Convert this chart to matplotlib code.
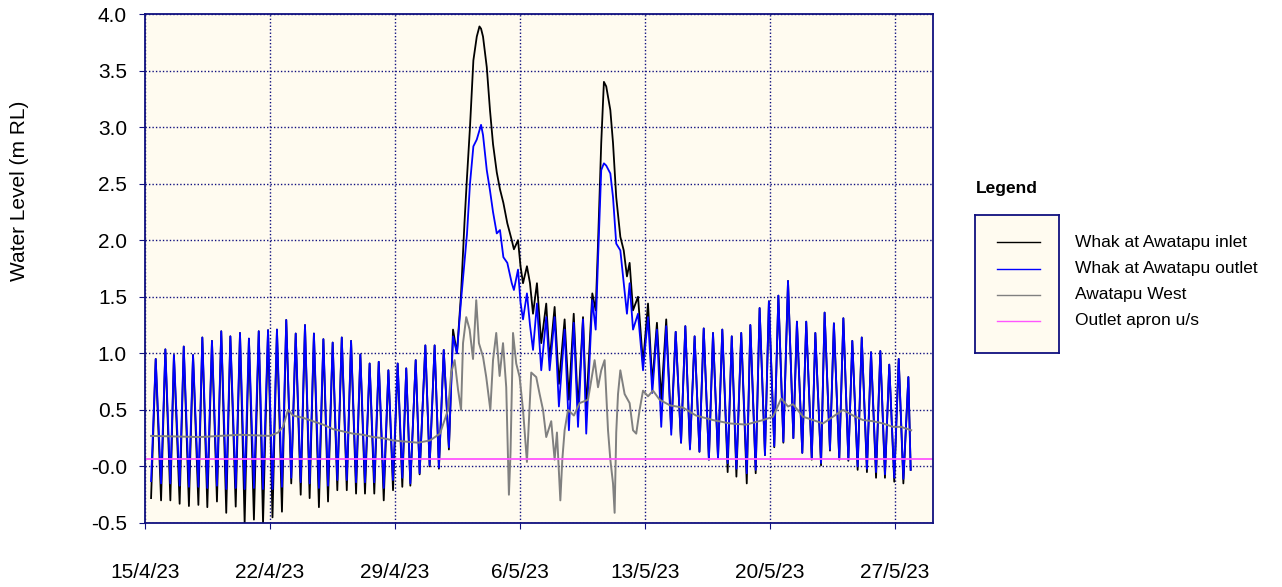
import matplotlib
matplotlib.use("Agg")
import matplotlib.pyplot as plt
import numpy as np
import pandas as pd

plt.rcParams['font.family'] = ['Liberation Sans', 'DejaVu Sans']

# days after 15/4/23 00:00 (tide turning points)
t_tide = [0.34, 0.60, 0.90, 1.14, 1.42, 1.62, 1.94, 2.17, 2.46, 2.69,
          2.99, 3.21, 3.49, 3.75, 4.03, 4.27, 4.55, 4.78, 5.08, 5.32,
          5.58, 5.82, 6.10, 6.37, 6.61, 6.89, 7.14, 7.39, 7.67, 7.91,
          8.19, 8.44, 8.72, 8.96, 9.22, 9.46, 9.74, 9.99, 10.25, 10.51,
          10.77, 11.02, 11.30, 11.54, 11.82, 12.06, 12.32, 12.58, 12.84, 13.09,
          13.37, 13.63, 13.89, 14.15, 14.41, 14.63, 14.86, 15.16, 15.38, 15.70,
          15.94, 16.22, 16.46, 16.73, 17.02, 17.25,
          # first flood
          17.47, 17.70, 17.89, 18.03, 18.20, 18.39, 18.58, 18.73, 18.82, 18.93,
          19.14, 19.32, 19.49, 19.70, 19.88, 20.07, 20.29, 20.54, 20.66, 20.89,
          21.03, 21.17, 21.39, 21.56, 21.73,
          # between floods and second flood
          21.95, 22.19, 22.47, 22.66, 22.94, 23.18, 23.50, 23.74, 24.01, 24.25,
          24.53, 24.71, 25.05, 25.24, 25.37, 25.55, 25.70, 25.83, 26.06, 26.21,
          26.39, 26.62, 26.81, 26.99, 27.14, 27.33, 27.61, 27.89, 28.17, 28.41,
          28.67, 28.91,
          # after second flood
          29.19, 29.47, 29.72, 30.02, 30.26, 30.52, 30.78, 31.05, 31.29, 31.58,
          31.81, 32.09, 32.33, 32.63, 32.86, 33.12, 33.39, 33.70, 33.90, 34.20,
          34.42, 34.72, 34.94, 35.24, 35.47, 35.75, 36.01, 36.31, 36.51, 36.81,
          37.03, 37.34, 37.54, 37.86, 38.06, 38.36, 38.58, 38.88, 39.11, 39.39,
          39.61, 39.91, 40.14, 40.43, 40.66, 40.94, 41.18, 41.44, 41.68, 41.96,
          42.21, 42.47, 42.75, 42.88]

inlet = [-0.28, 0.95, -0.30, 1.035, -0.30, 0.985, -0.33, 1.06, -0.35, 0.985,
         -0.34, 1.14, -0.36, 1.11, -0.31, 1.195, -0.41, 1.15, -0.355, 1.18,
         -0.50, 1.13, -0.47, 1.195, -0.50, 1.205, -0.45, 1.21, -0.40, 1.295,
         -0.15, 1.175, -0.25, 1.25, -0.28, 1.175, -0.36, 1.125, -0.31, 1.095,
         -0.21, 1.14, -0.21, 1.11, -0.24, 0.99, -0.24, 0.91, -0.24, 0.925,
         -0.30, 0.85, -0.21, 0.91, -0.18, 0.867, -0.17, 0.94, -0.07, 1.07,
         0.00, 1.07, -0.02, 1.03, 0.15, 1.21,
         1.00, 1.53, 2.15, 2.55, 3.00, 3.59, 3.80, 3.89, 3.87, 3.80,
         3.53, 3.15, 2.85, 2.60, 2.45, 2.33, 2.15, 2.00, 1.92, 2.00,
         1.77, 1.62, 1.77, 1.62, 1.35,
         1.62, 1.09, 1.44, 0.94, 1.41, 0.73, 1.30, 0.59, 1.35, 0.50,
         1.32, 0.50, 1.53, 1.38, 1.97, 2.86, 3.40, 3.36, 3.15, 2.86,
         2.38, 2.03, 1.91, 1.68, 1.80, 1.38, 1.50, 0.91, 1.44, 0.73,
         1.27, 0.59,
         1.30, 0.33, 1.19, 0.21, 1.24, 0.16, 1.15, 0.13, 1.22, 0.06,
         1.18, 0.07, 1.21, -0.05, 1.15, -0.09, 1.18, -0.15, 1.25, -0.06,
         1.40, 0.10, 1.46, 0.17, 1.51, 0.21, 1.64, 0.25, 1.28, 0.12,
         1.28, 0.06, 1.18, 0.01, 1.36, 0.14, 1.265, 0.06, 1.31, 0.05,
         1.11, -0.03, 1.14, -0.05, 1.01, -0.10, 1.02, -0.10, 0.90, -0.135,
         0.95, -0.15, 0.79, -0.03]

outlet = [-0.13, 0.95, -0.15, 1.035, -0.15, 0.985, -0.17, 1.06, -0.18, 0.985,
          -0.18, 1.14, -0.19, 1.11, -0.17, 1.195, -0.20, 1.15, -0.19, 1.18,
          -0.20, 1.13, -0.19, 1.195, -0.20, 1.205, -0.20, 1.21, -0.18, 1.295,
          -0.10, 1.175, -0.14, 1.25, -0.15, 1.175, -0.19, 1.125, -0.17, 1.095,
          -0.12, 1.14, -0.12, 1.11, -0.14, 0.99, -0.14, 0.91, -0.14, 0.925,
          -0.19, 0.85, -0.12, 0.91, -0.10, 0.867, -0.15, 0.94, -0.06, 1.07,
          0.01, 1.07, -0.01, 1.03, 0.17, 1.15,
          1.00, 1.47, 1.80, 2.05, 2.50, 2.83, 2.89, 2.97, 3.02, 2.93,
          2.62, 2.44, 2.25, 2.06, 2.09, 1.85, 1.80, 1.62, 1.56, 1.74,
          1.45, 1.30, 1.53, 1.25, 1.03,
          1.44, 0.85, 1.32, 0.85, 1.32, 0.53, 1.21, 0.32, 1.27, 0.35,
          1.30, 0.29, 1.47, 1.21, 1.83, 2.62, 2.68, 2.66, 2.59, 2.38,
          1.97, 1.91, 1.62, 1.35, 1.62, 1.21, 1.35, 0.85, 1.32, 0.65,
          1.21, 0.35,
          1.24, 0.28, 1.19, 0.21, 1.24, 0.15, 1.15, 0.13, 1.22, 0.06,
          1.18, 0.07, 1.21, 0.03, 1.15, -0.02, 1.18, -0.06, 1.25, -0.03,
          1.40, 0.10, 1.46, 0.18, 1.51, 0.22, 1.64, 0.25, 1.28, 0.12,
          1.28, 0.07, 1.18, 0.03, 1.36, 0.15, 1.265, 0.07, 1.31, 0.06,
          1.11, 0.00, 1.14, -0.02, 1.01, -0.05, 1.02, -0.07, 0.90, -0.10,
          0.95, -0.11, 0.79, -0.03]

t_west = [0.34, 3.08, 5.32, 7.00, 7.45, 7.73, 8.01, 8.29, 8.85, 9.41,
          9.97, 10.53, 11.09, 11.65, 12.21, 12.77, 13.33, 13.89, 14.56, 15.29,
          15.96, 16.52, 16.97, 17.15, 17.34, 17.53, 17.70, 17.81, 17.99, 18.18,
          18.37, 18.55, 18.70, 18.93, 19.11, 19.34, 19.49, 19.67, 19.86, 20.05,
          20.23, 20.38, 20.47, 20.61, 20.79, 20.98, 21.17, 21.39, 21.63, 21.91,
          22.10, 22.29, 22.47, 22.75, 22.94, 23.07, 23.26, 23.37, 23.50, 23.69,
          24.02, 24.34, 24.81, 25.18, 25.37, 25.55, 25.74, 25.93, 26.06, 26.21,
          26.30, 26.39, 26.49, 26.62, 26.86, 27.14, 27.33, 27.51, 27.70, 27.89,
          28.17, 28.45, 28.82, 29.40, 30.13, 30.86, 31.81, 32.76, 33.66, 34.61,
          35.17, 35.63, 36.01, 36.29, 36.85, 37.41, 37.97, 38.53, 39.09, 39.65,
          40.21, 40.77, 41.33, 41.89, 42.34, 42.91]
west = [0.27, 0.26, 0.28, 0.27, 0.30, 0.35, 0.50, 0.45, 0.43, 0.40,
        0.37, 0.33, 0.31, 0.29, 0.28, 0.26, 0.25, 0.23, 0.22, 0.21,
        0.23, 0.29, 0.50, 0.83, 0.94, 0.68, 0.50, 1.09, 1.32, 1.21,
        0.95, 1.47, 1.09, 0.97, 0.79, 0.50, 0.94, 1.18, 0.80, 1.09,
        0.70, -0.25, 0.12, 1.18, 0.91, 0.79, 0.50, 0.04, 0.83, 0.79,
        0.64, 0.50, 0.26, 0.40, 0.06, 0.30, -0.30, 0.06, 0.32, 0.50,
        0.45, 0.56, 0.59, 0.94, 0.70, 0.85, 0.94, 0.32, 0.06, -0.15,
        -0.41, 0.30, 0.64, 0.85, 0.64, 0.56, 0.32, 0.29, 0.50, 0.67,
        0.62, 0.67, 0.59, 0.54, 0.52, 0.45, 0.41, 0.38, 0.37, 0.41,
        0.44, 0.60, 0.53, 0.55, 0.44, 0.41, 0.38, 0.44, 0.50, 0.45,
        0.41, 0.40, 0.38, 0.35, 0.35, 0.32]

t_apron = [0.0, 44.2]
apron = [0.065, 0.065]

start = pd.Timestamp('2023-04-15')
tick_dates = pd.to_datetime(['2023-04-15', '2023-04-22', '2023-04-29', '2023-05-06',
                             '2023-05-13', '2023-05-20', '2023-05-27'])
tick_labels = ['15/4/23', '22/4/23', '29/4/23', '6/5/23', '13/5/23', '20/5/23', '27/5/23']
y_ticks = [-0.5, 0.0, 0.5, 1.0, 1.5, 2.0, 2.5, 3.0, 3.5, 4.0]
y_labels = ['-0.5', '-0.0', '0.5', '1.0', '1.5', '2.0', '2.5', '3.0', '3.5', '4.0']

series = [('Whak at Awatapu inlet', t_tide, inlet, '#000000', 1.3),
          ('Whak at Awatapu outlet', t_tide, outlet, '#0000FF', 1.3),
          ('Awatapu West', t_west, west, '#808080', 1.4),
          ('Outlet apron u/s', t_apron, apron, '#FF55FF', 1.3)]

navy = '#10107f'
cream = '#FFFBF0'

fig = plt.figure(figsize=(12.82, 5.87), dpi=100)
ax = fig.add_axes([145/1282, 64/587, 788/1282, 509/587])
ax.set_facecolor(cream)

for name, t, v, c, lw in series:
    dates = start + pd.to_timedelta(np.array(t), unit='D')
    ax.plot(dates, v, color=c, lw=lw)

ax.set_xlim(start, start + pd.Timedelta(days=44.13))
ax.set_ylim(-0.5, 4.0)
ax.set_xticks(tick_dates)
ax.set_xticklabels(tick_labels)
ax.set_yticks(y_ticks)
ax.set_yticklabels(y_labels)
ax.tick_params(axis='both', direction='out', length=4, color=navy, labelsize=15)
ax.tick_params(axis='x', pad=25)
ax.tick_params(axis='y', pad=9)
ax.grid(True, color=navy, linestyle=(0, (1, 1.5)), linewidth=1.0)
for s in ax.spines.values():
    s.set_color(navy)
    s.set_linewidth(1.3)

fig.text(20/1282, (587 - 191)/587, 'Water Level (m RL)', rotation=90,
         ha='center', va='center', fontsize=15)

# legend drawn as a small box with lines, labels to the right
fig.text(976/1282, (587 - 188)/587, 'Legend', fontsize=12.5, fontweight='bold',
         ha='left', va='center')
lax = fig.add_axes([975/1282, (587 - 353)/587, 84/1282, 138/587])
lax.set_facecolor(cream)
lax.set_xlim(0, 1)
lax.set_ylim(0, 1)
lax.set_xticks([])
lax.set_yticks([])
for s in lax.spines.values():
    s.set_color(navy)
    s.set_linewidth(1.3)
leg_y = [242, 269, 295, 321]
for (name, t, v, c, lw), yy in zip(series, leg_y):
    fy = (353 - yy) / 138
    lax.plot([0.26, 0.77], [fy, fy], color=c, lw=1.0)
    fig.text(1075/1282, (587 - yy)/587, name, fontsize=12.5, ha='left', va='center')

fig.savefig('out.png', dpi=100, facecolor='white')
